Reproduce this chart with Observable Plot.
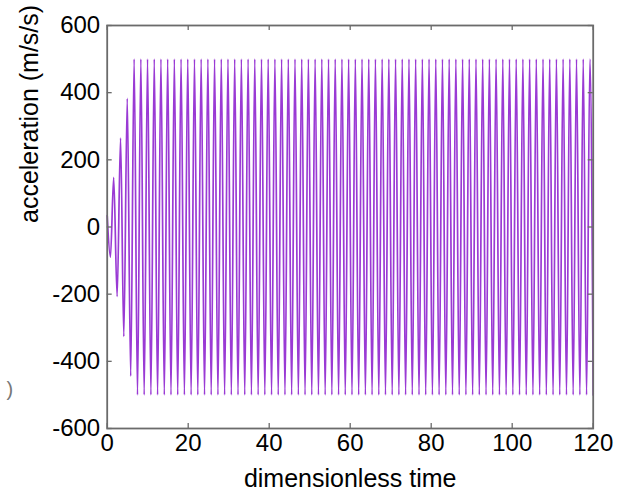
<!DOCTYPE html>
<html>
<head>
<meta charset="utf-8">
<script src="https://cdn.jsdelivr.net/npm/d3@7"></script>
<script src="https://cdn.jsdelivr.net/npm/@observablehq/plot@0.6"></script>
<style>
  html, body { margin: 0; padding: 0; background: #fff; }
  #chart svg { display: block; }
</style>
</head>
<body>
<div id="chart"></div>
<script>
// Extrema of the acceleration trace (time, value)
const times = [
  0, 0.8, 1.6, 2.45, 3.3, 4.1, 4.95, 5.8,
  6.65, 7.48, 8.31, 9.13,
  9.96, 10.79, 11.62, 12.44,
  13.27, 14.10, 14.93, 15.75,
  16.58, 17.41, 18.24, 19.06,
  19.89, 20.72, 21.55, 22.37,
  23.20, 24.03, 24.86, 25.68,
  26.51, 27.34, 28.17, 28.99,
  29.82, 30.65, 31.48, 32.30,
  33.13, 33.96, 34.79, 35.61,
  36.44, 37.27, 38.10, 38.92,
  39.75, 40.58, 41.41, 42.23,
  43.06, 43.89, 44.72, 45.54,
  46.37, 47.20, 48.03, 48.85,
  49.68, 50.51, 51.34, 52.16,
  52.99, 53.82, 54.65, 55.47,
  56.30, 57.13, 57.96, 58.78,
  59.61, 60.44, 61.27, 62.09,
  62.92, 63.75, 64.58, 65.40,
  66.23, 67.06, 67.89, 68.71,
  69.54, 70.37, 71.20, 72.02,
  72.85, 73.68, 74.51, 75.33,
  76.16, 76.99, 77.82, 78.64,
  79.47, 80.30, 81.13, 81.95,
  82.78, 83.61, 84.44, 85.26,
  86.09, 86.92, 87.75, 88.57,
  89.40, 90.23, 91.06, 91.88,
  92.71, 93.54, 94.37, 95.19,
  96.02, 96.85, 97.68, 98.50,
  99.33, 100.16, 100.99, 101.81,
  102.64, 103.47, 104.30, 105.12,
  105.95, 106.78, 107.61, 108.43,
  109.26, 110.09, 110.92, 111.74,
  112.57, 113.40, 114.23, 115.05,
  115.88, 116.71, 117.54, 118.36,
  119.19, 120.0
];
const accel = [
  34, -90, 148, -207, 265, -326, 383, -444,
  500, -500, 500, -500,
  500, -500, 500, -500,
  500, -500, 500, -500,
  500, -500, 500, -500,
  500, -500, 500, -500,
  500, -500, 500, -500,
  500, -500, 500, -500,
  500, -500, 500, -500,
  500, -500, 500, -500,
  500, -500, 500, -500,
  500, -500, 500, -500,
  500, -500, 500, -500,
  500, -500, 500, -500,
  500, -500, 500, -500,
  500, -500, 500, -500,
  500, -500, 500, -500,
  500, -500, 500, -500,
  500, -500, 500, -500,
  500, -500, 500, -500,
  500, -500, 500, -500,
  500, -500, 500, -500,
  500, -500, 500, -500,
  500, -500, 500, -500,
  500, -500, 500, -500,
  500, -500, 500, -500,
  500, -500, 500, -500,
  500, -500, 500, -500,
  500, -500, 500, -500,
  500, -500, 500, -500,
  500, -500, 500, -500,
  500, -500, 500, -500,
  500, -500, 500, -500,
  500, -500, 500, -500,
  500, -500, 500, -500,
  500, -500
];
const xTicks = [0, 20, 40, 60, 80, 100, 120];
const yTicks = [-600, -400, -200, 0, 200, 400, 600];
const xLabel = "dimensionless time";
const yLabel = "acceleration (m/s/s)";

const data = times.map((t, i) => ({t, a: accel[i]}));

const W = 632, H = 492;
const mL = 106.7, mR = 39.3, mT = 25, mB = 64;
const plotW = W - mL - mR, plotH = H - mT - mB;
const tick = 5;
const axisColor = "#6b6b6b";
const font = "'Liberation Sans', Arial, Helvetica, sans-serif";

const chart = Plot.plot({
  width: W,
  height: H,
  marginLeft: mL,
  marginRight: mR,
  marginTop: mT,
  marginBottom: mB,
  style: {fontFamily: font, background: "#fff", color: "#000"},
  x: {domain: [0, 120]},
  y: {domain: [-600, 600]},
  marks: [
    Plot.line(data, {x: "t", y: "a", curve: "monotone-x", stroke: "#9a3ad4", strokeWidth: 1.7}),
    // inward ticks (bottom, top, left, right)
    Plot.tickX(xTicks, {x: d => d, insetTop: plotH - tick, stroke: axisColor, strokeWidth: 1.3}),
    Plot.tickX(xTicks, {x: d => d, insetBottom: plotH - tick, stroke: axisColor, strokeWidth: 1.3}),
    Plot.tickY(yTicks, {y: d => d, insetRight: plotW - tick, stroke: axisColor, strokeWidth: 1.3}),
    Plot.tickY(yTicks, {y: d => d, insetLeft: plotW - tick, stroke: axisColor, strokeWidth: 1.3}),
    Plot.frame({stroke: axisColor, strokeWidth: 1.8}),
    Plot.axisX(xTicks, {tickSize: 0, tickPadding: 5, fontSize: 24, label: null, fill: "#000", tickFormat: d => String(d)}),
    Plot.axisY(yTicks, {tickSize: 0, tickPadding: 7, fontSize: 24, label: null, fill: "#000", tickFormat: d => String(d)}),
    Plot.text([xLabel], {frameAnchor: "bottom", dy: 58, fontSize: 25, fill: "#000", text: d => d}),
    Plot.text([yLabel], {frameAnchor: "left", dx: -77, dy: -4, rotate: -90, fontSize: 25, fill: "#000", text: d => d}),
    Plot.text([")"], {frameAnchor: "bottom-left", dx: 6 - mL, dy: -33, fontSize: 20, fill: "#777", text: d => d})
  ]
});
document.getElementById("chart").appendChild(chart);
</script>
</body>
</html>
